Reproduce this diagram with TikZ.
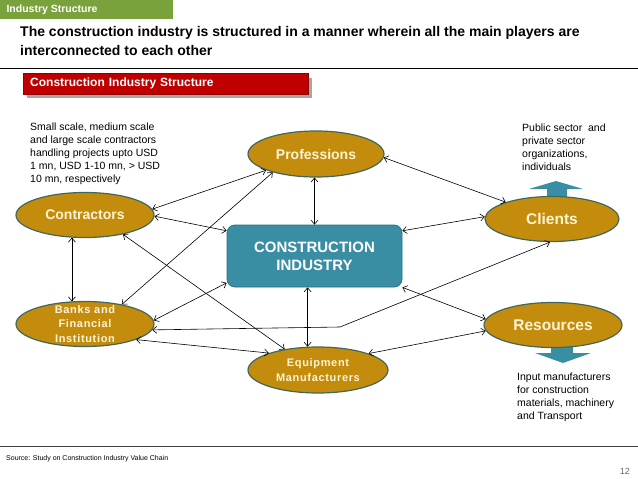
\documentclass[tikz,border=0pt]{standalone}
\usepackage{fontspec}
\setmainfont{Liberation Sans}
\usetikzlibrary{shapes.geometric,arrows.meta}
\definecolor{barGreen}{RGB}{122,162,60}
\definecolor{bannerRed}{RGB}{192,0,0}
\definecolor{hubTeal}{RGB}{58,142,164}
\definecolor{hubRim}{RGB}{40,112,130}
\definecolor{playerGold}{RGB}{196,140,12}
\definecolor{playerRim}{RGB}{64,104,90}
\definecolor{playerText}{RGB}{255,244,212}
\begin{document}
\begin{tikzpicture}[x=1pt,y=-1pt,
    player/.style={ellipse,draw=playerRim,line width=1.2pt,fill=playerGold,minimum width=138pt,minimum height=45pt,inner sep=0pt,text=playerText,font=\bfseries\fontsize{14}{16}\selectfont},
    smalltext/.style={text=playerText,align=center,inner sep=0pt,font=\bfseries\fontsize{11}{14.8}\selectfont\addfontfeature{LetterSpace=6}},
    link/.style={{Straight Barb[length=4pt,width=7pt]}-{Straight Barb[length=4pt,width=7pt]},line width=0.6pt},
    note/.style={anchor=north west,align=left,inner sep=0pt,font=\fontsize{10.5}{12.8}\selectfont}]
    \useasboundingbox (0,0) rectangle (638,479);
    \fill[barGreen] (0,0) rectangle (173,19);
    \node[anchor=west,text=white,font=\bfseries\fontsize{10.5}{12}\selectfont] (tag) at (3,10) {Industry Structure};
    \node[anchor=north west,align=left,inner sep=0pt,font=\bfseries\fontsize{14}{18.5}\selectfont] (title) at (20,26.5) {The construction industry is structured in a manner wherein all the main players are\\interconnected to each other};
    \draw[line width=0.9pt] (0,68) -- (638,68);
    \fill[black!35] (27,78) rectangle (312,98);
    \node[anchor=north west,fill=bannerRed,draw=bannerRed!75!black,minimum width=285pt,minimum height=21pt,text width=271pt,inner xsep=7pt,inner ysep=0pt,text=white,font=\bfseries\fontsize{12}{14}\selectfont] (banner) at (23,73) {Construction Industry Structure};
    \node[note] (contrnote) at (30,123) {Small scale, medium scale\\and large scale contractors\\handling projects upto USD\\1 mn, USD 1-10 mn, > USD\\10 mn, respectively};
    \node[note] (clientnote) at (522,124) {Public sector\ \ and\\private sector\\organizations,\\individuals};
    \node[note] (resnote) at (517,373) {Input manufacturers\\for construction\\materials, machinery\\and Transport};
    \fill[hubTeal] (547,205) -- (547,189) -- (529,189) -- (556,181) -- (583,189) -- (567,189) -- (567,205) -- cycle;
    \fill[hubTeal] (551,340) -- (551,353) -- (535,353) -- (563,363) -- (591,353) -- (573,353) -- (573,340) -- cycle;
    \node[draw=hubRim,fill=hubTeal,line width=0.8pt,rounded corners=8pt,minimum width=175pt,minimum height=62pt,align=center,text=white,font=\bfseries\fontsize{15}{18}\selectfont] (cons) at (314.5,256) {CONSTRUCTION\\INDUSTRY};
    \node[player,minimum width=136pt,minimum height=46pt] (prof) at (316,154) {Professions};
    \node[player] (contr) at (85,215) {Contractors};
    \node[player,minimum width=134pt,font=\bfseries\fontsize{15.5}{18}\selectfont] (clients) at (552,219) {Clients};
    \node[player] (banks) at (85,324) {};
    \node[smalltext] (bankstext) at (banks) {Banks and\\Financial\\Institution};
    \node[player,minimum width=140pt,minimum height=46pt] (equip) at (318,370) {};
    \node[smalltext] (equiptext) at (equip) {Equipment\\Manufacturers};
    \node[player,font=\bfseries\fontsize{15.5}{18}\selectfont] (res) at (553,325) {Resources};
    \coordinate (kink) at (340,327);
    \draw[link] (prof.198) -- (contr.5);
    \draw[link] (prof.203) -- (banks.28);
    \draw[link] (prof.-3) -- (clients.160);
    \draw[link] (prof.south -| cons.north) -- (cons.north);
    \draw[link] (contr.-1) -- (cons.164);
    \draw[link] (contr.-27) -- (equip.148);
    \draw[link] (contr.240) -- (banks.120);
    \draw[link] (cons.16) -- (clients.178);
    \draw[link] (banks.3) -- (cons.197);
    \draw[link] (banks.-5) -- (kink) -- (clients.265);
    \draw[link] (banks.-17) -- (equip.161);
    \draw[link] (cons.south -| equip.114) -- (equip.114);
    \draw[link] (cons.south east) -- (res.175);
    \draw[link] (equip.18) -- (res.185);
    \draw[black!75,line width=0.8pt] (0,446) -- (638,446);
    \node[anchor=west,inner sep=0pt,font=\fontsize{7}{8}\selectfont] (source) at (6,459) {Source: Study on Construction Industry Value Chain};
    \node[anchor=east,inner sep=0pt,text=black!60,font=\fontsize{9}{10}\selectfont] (page) at (630,471) {12};
\end{tikzpicture}
\end{document}
